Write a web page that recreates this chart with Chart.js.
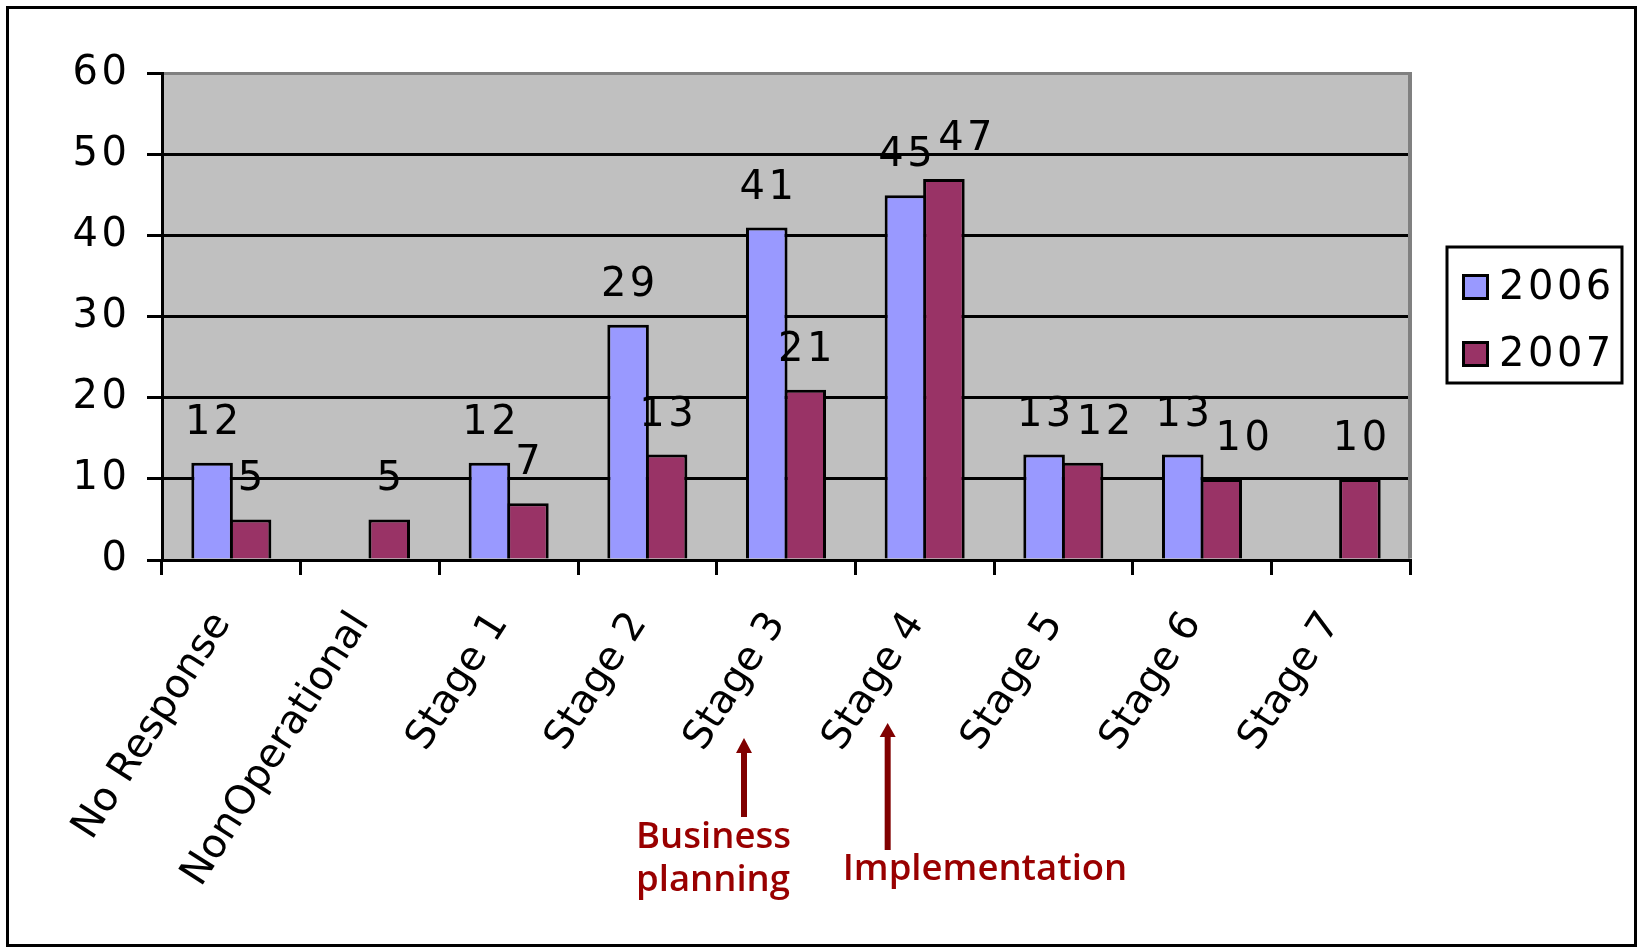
<!DOCTYPE html>
<html>
<head>
<meta charset="utf-8">
<title>2006 vs 2007</title>
<script src="https://cdn.jsdelivr.net/npm/chart.js@4.4.1/dist/chart.umd.min.js"></script>
<style>
    html, body { margin: 0; padding: 0; background: #fff; }
    canvas { display: block; }
</style>
</head>
<body>
<canvas id="stageChart" width="1637" height="948"></canvas>
<script>
// Categories and yearly counts
const categories = ['No Response', 'NonOperational', 'Stage 1', 'Stage 2', 'Stage 3', 'Stage 4', 'Stage 5', 'Stage 6', 'Stage 7'];
const seriesNames = ['2006', '2007'];
const values2006 = [12, null, 12, 29, 41, 45, 13, 13, null];
const values2007 = [5, 5, 7, 13, 21, 47, 12, 10, 10];
const yMin = 0;
const yMax = 60;
const yStep = 10;

const colors = ['#9999FF', '#993366'];
const digitFont = '40px "DejaVu Sans"';
const digitSpacing = '3.5px';
const wordSpacing = '0px';

// Gray plot background, gray right edge and the outer black frame
const plotFrame = {
    id: 'plotFrame',
    beforeDraw(chart) {
        const { ctx, chartArea: a } = chart;
        ctx.save();
        ctx.fillStyle = '#fff';
        ctx.fillRect(0, 0, chart.width, chart.height);
        ctx.fillStyle = '#C0C0C0';
        ctx.fillRect(a.left, a.top, a.right - a.left, a.bottom - a.top);
        ctx.restore();
        // y tick numbers are drawn with the grid layer
        ctx.letterSpacing = digitSpacing;
    },
    afterDraw(chart) {
        const { ctx, chartArea: a } = chart;
        ctx.save();
        ctx.fillStyle = '#808080';
        ctx.fillRect(a.right - 2, a.top - 1.5, 4, a.bottom - a.top);
        ctx.strokeStyle = '#000';
        ctx.lineWidth = 3;
        ctx.strokeRect(7.5, 7.5, chart.width - 9, chart.height - 10);
        ctx.restore();
    }
};

// Value labels above each bar; the second label slides right if it would collide
const valueLabels = {
    id: 'valueLabels',
    afterDatasetsDraw(chart) {
        const ctx = chart.ctx;
        ctx.save();
        ctx.font = digitFont;
        ctx.letterSpacing = digitSpacing;
        ctx.fillStyle = '#000';
        ctx.textAlign = 'center';
        ctx.textBaseline = 'alphabetic';
        const metas = chart.data.datasets.map((ds, i) => chart.getDatasetMeta(i));
        chart.data.labels.forEach((cat, j) => {
            let prev = null;
            chart.data.datasets.forEach((ds, i) => {
                const v = ds.data[j];
                if (v === null || v === undefined) return;
                const bar = metas[i].data[j];
                const text = String(v);
                const w = ctx.measureText(text).width;
                let x = bar.x + 1.75;
                const y = bar.y - 29;
                if (prev && Math.abs(prev.y - y) < 32 && x - w / 2 < prev.x + prev.w / 2 + 2) {
                    x = prev.x + prev.w / 2 + 2 + w / 2;
                }
                ctx.fillText(text, x, y);
                prev = { x, y, w };
            });
        });
        ctx.restore();
        // category labels on the x axis are drawn after this hook
        ctx.letterSpacing = wordSpacing;
    }
};

// Boxed legend on the right
const boxLegend = {
    id: 'boxLegend',
    afterDraw(chart) {
        const ctx = chart.ctx;
        ctx.save();
        ctx.strokeStyle = '#000';
        ctx.lineWidth = 3;
        ctx.strokeRect(1447, 247, 175, 136);
        ctx.font = digitFont;
        ctx.letterSpacing = digitSpacing;
        ctx.textAlign = 'left';
        ctx.textBaseline = 'alphabetic';
        chart.data.datasets.forEach((ds, i) => {
            const top = 274 + i * 67;
            ctx.fillStyle = '#000';
            ctx.fillRect(1462, top, 27, 26);
            ctx.fillStyle = ds.backgroundColor;
            ctx.fillRect(1465, top + 3, 21, 20);
            ctx.fillStyle = '#000';
            ctx.fillText(ds.label, 1499, top + 25);
        });
        ctx.restore();
    }
};

// Arrows and notes under Stage 3 and Stage 4
const stageNotes = {
    id: 'stageNotes',
    afterDraw(chart) {
        const { ctx, scales: { x } } = chart;
        const arrow = (cx, tip, base, bottom) => {
            ctx.fillRect(cx - 3, base - 1, 6, bottom - base + 1);
            ctx.beginPath();
            ctx.moveTo(cx - 8, base);
            ctx.lineTo(cx + 8, base);
            ctx.lineTo(cx, tip);
            ctx.closePath();
            ctx.fill();
        };
        const s3 = x.getPixelForValue(4);
        const s4 = x.getPixelForValue(5);
        ctx.save();
        ctx.letterSpacing = '0px';
        ctx.fillStyle = '#800000';
        arrow(s3 - 42, 738, 753, 817);
        arrow(s4 - 37, 723, 737, 850);
        ctx.fillStyle = '#990000';
        ctx.font = '600 36.5px "Open Sans"';
        ctx.textAlign = 'left';
        ctx.textBaseline = 'alphabetic';
        ctx.fillText('Business', s3 - 150, 848);
        ctx.fillText('planning', s3 - 150, 891);
        ctx.fillText('Implementation', s4 - 82, 880);
        ctx.restore();
    }
};

Chart.defaults.font.family = '"DejaVu Sans"';
Chart.defaults.color = '#000';

new Chart(document.getElementById('stageChart'), {
    type: 'bar',
    data: {
        labels: categories,
        datasets: [
            { label: seriesNames[0], data: values2006, backgroundColor: colors[0] },
            { label: seriesNames[1], data: values2007, backgroundColor: colors[1] }
        ]
    },
    options: {
        responsive: false,
        animation: false,
        events: [],
        layout: { padding: { left: 0, top: 73.5, right: 227, bottom: 0 } },
        datasets: {
            bar: {
                categoryPercentage: 0.555,
                barPercentage: 1.08,
                borderColor: '#000',
                borderWidth: 3,
                borderSkipped: 'start'
            }
        },
        plugins: {
            legend: { display: false },
            tooltip: { enabled: false }
        },
        scales: {
            x: {
                afterFit(scale) { scale.height = 388; },
                grid: {
                    offset: true,
                    drawOnChartArea: false,
                    tickLength: 15,
                    tickColor: '#000',
                    lineWidth: 3
                },
                border: { display: true, color: '#000', width: 3 },
                ticks: {
                    autoSkip: false,
                    minRotation: 57.5,
                    maxRotation: 57.5,
                    padding: 29,
                    labelOffset: -9,
                    z: 1,
                    font: { size: 40 },
                    color: '#000'
                }
            },
            y: {
                min: yMin,
                max: yMax,
                afterFit(scale) { scale.width = 162; },
                grid: {
                    color: (c) => (c.tick && c.tick.value === yMax ? '#808080' : '#000'),
                    tickColor: '#000',
                    lineWidth: 3,
                    tickLength: 15
                },
                border: { display: true, color: '#000', width: 3 },
                ticks: {
                    stepSize: yStep,
                    padding: 16.5,
                    font: { size: 40 },
                    color: '#000'
                }
            }
        }
    },
    plugins: [plotFrame, valueLabels, boxLegend, stageNotes]
});
</script>
</body>
</html>
